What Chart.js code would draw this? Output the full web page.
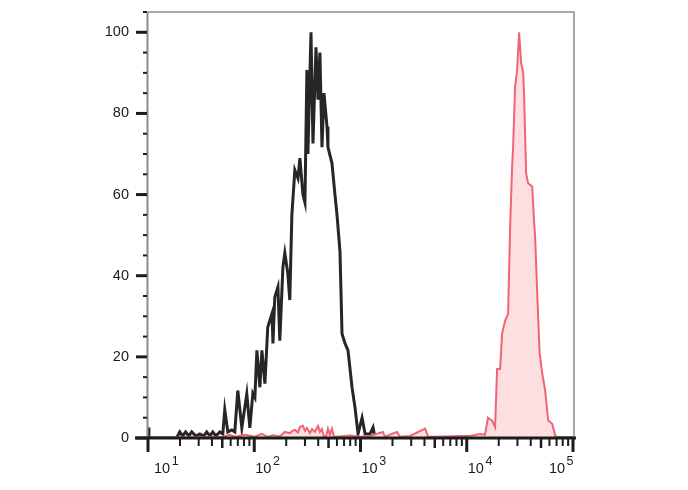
<!DOCTYPE html>
<html><head><meta charset="utf-8">
<script src="https://cdn.jsdelivr.net/npm/chart.js@4"></script>
<style>html,body{margin:0;padding:0;background:#fff}#wrap{width:688px;height:490px;position:relative}</style>
</head><body><div id="wrap"><canvas id="c" width="688" height="490"></canvas></div>
<script>
// Control (unstained, black outline)
const controlX=[10,10.2,18.6,19.9,21.2,22.6,24.2,25.8,28.2,30.7,33.5,35.7,38.2,40.7,43.5,47.4,50.6,52.8,56.4,61.5,65.6,70,76.4,85.1,90.9,97,101.4,105.9,113,118,126,134,147,150,156,167,174,186,194,207,216,226,241,258,269,287,300,313,320,342,357,381,398,415,434,453,484,494,539,575,601,641,670,715,763,832,888,948,1035,1105,1231,1313,1371,100000];
const controlY=[2.6,0,0,1.5,0.5,1.5,0.5,1.5,0.5,1,0.5,1.5,0.5,1.5,0.5,1.5,1,7,1.5,2,1.5,11.7,2.5,10.9,2.5,11,10,21.6,12.5,21.6,13.4,27.3,30.7,23.3,34.7,37.2,24,42,45.6,40.6,34,55,66,64,69,60,58,90.7,70,100,72.6,96.3,83.4,95,71.7,85,76.7,71.7,67.7,60,55,46,25.7,23.3,21.6,12.5,7.5,1,5,1,1,2.6,0,0];
// Stained sample (red, filled)
const stainedX=[10,50.6,58.9,65.6,81.5,101,118,134,150,174,194,216,231,241,258,269,287,300,313,334,349,372,398,415,434,453,473,494,515,539,563,641,795,988,1231,1626,1700,2203,2355,2926,4055,4330,6265,8670,10700,13300,14830,15850,17300,18480,19300,20600,21500,23000,24500,25600,26700,27300,28500,29800,31100,32500,34000,34700,36200,37800,41300,43100,44000,46000,48500,51300,54700,58400,63700,68000,72600,100000];
const stainedY=[0,0.3,0.8,0.3,0.8,0.3,1,0.3,0.7,0.4,1.5,1.2,1.8,2,1.4,2.7,3,1.8,2.5,1.2,2.2,1.5,3,1.5,2.2,0.3,0.3,2.3,0.8,2.3,0.3,0.4,0.6,0.3,0.5,1.5,0.3,1.5,0.3,0.5,2.3,0.3,0.4,0.5,0.5,1,0.8,5,4.3,2.7,17,17,25.7,29,30.6,52,66.7,71.7,86.5,90.7,100,92.4,90,84,65.2,62.8,62,53,49.5,36,21,16,11.7,4.3,3.5,0.6,0,0];
const yMajorTicks=[0,20,40,60,80,100];
const yTickLabels=['0','20','40','60','80','100'];
const xDecades=[10,100,1000,10000,100000];
const xDecadeExponents=['1','2','3','4','5'];

const toPts=(xs,ys)=>xs.map((v,i)=>({x:v,y:ys[i]}));

const axesPlugin={id:'axesDraw',afterDatasetsDraw(chart){
  const {ctx,chartArea:a,scales:{x,y}}=chart;
  ctx.save();
  ctx.strokeStyle='#8c8c8c';
  ctx.lineWidth=1.5;
  ctx.beginPath();ctx.moveTo(a.left,a.top);ctx.lineTo(a.right+1,a.top);ctx.lineTo(a.right+1,a.bottom);ctx.stroke();
  ctx.lineWidth=2;
  ctx.beginPath();ctx.moveTo(a.left-0.5,a.top);ctx.lineTo(a.left-0.5,a.bottom);ctx.stroke();
  ctx.fillStyle='#1c1c1c';
  for(let v=0;v<=105;v+=5){
    const py=y.getPixelForValue(v);
    if(yMajorTicks.includes(v)) ctx.fillRect(a.left-12,py-1.5,11,3);
    else ctx.fillRect(a.left-5,py-1,4,2);
  }
  ctx.font='14.5px "Liberation Sans", Arial, sans-serif';
  ctx.textAlign='right';ctx.textBaseline='middle';
  yMajorTicks.forEach((v,i)=>{ctx.fillText(yTickLabels[i],a.left-19,y.getPixelForValue(v));});
  ctx.fillRect(135,a.bottom-1.5,a.right+3-135,3);
  for(let d=0;d<xDecades.length;d++){
    for(let m=1;m<=9;m++){
      const v=xDecades[d]*m;
      if(v>x.max*1.0001) break;
      const px=x.getPixelForValue(v);
      if(m===1) ctx.fillRect(px-1.5,a.bottom,3,14);
      else if(m===5) ctx.fillRect(px-1.25,a.bottom,2.5,10);
      else ctx.fillRect(px-1,a.bottom,2,8);
    }
  }
  const baseFont='14.5px "Liberation Sans", Arial, sans-serif';
  const supFont='12.5px "Liberation Sans", Arial, sans-serif';
  ctx.textAlign='left';ctx.textBaseline='alphabetic';
  xDecades.forEach((v,i)=>{
    const px=x.getPixelForValue(v);
    ctx.font=baseFont;const w1=ctx.measureText('10').width;
    ctx.font=supFont;const w2=ctx.measureText(xDecadeExponents[i]).width;
    let lx;
    if(i===0) lx=px+6;
    else if(i===xDecades.length-1) lx=px-(w1+w2+1);
    else lx=px+1;
    ctx.font=baseFont;ctx.fillText('10',lx,a.bottom+35);
    ctx.font=supFont;ctx.fillText(xDecadeExponents[i],lx+w1+1.5,a.bottom+27);
  });
  ctx.restore();
}};

new Chart(document.getElementById('c'),{
  type:'scatter',
  data:{datasets:[
    {label:'Stained',data:toPts(stainedX,stainedY),showLine:true,borderColor:'rgb(240,100,118)',backgroundColor:'rgb(253,222,225)',borderWidth:2,fill:'origin',pointRadius:0,tension:0},
    {label:'Control',data:toPts(controlX,controlY),showLine:true,borderColor:'#262626',backgroundColor:'rgba(0,0,0,0)',borderWidth:3,fill:false,pointRadius:0,tension:0}
  ]},
  options:{
    responsive:false,animation:false,devicePixelRatio:1,
    layout:{padding:{left:148,right:115,top:12,bottom:52}},
    plugins:{legend:{display:false},tooltip:{enabled:false}},
    scales:{
      x:{type:'logarithmic',min:10,max:100000,display:false},
      y:{type:'linear',min:0,max:105,display:false}
    }
  },
  plugins:[axesPlugin]
});
</script>
</body></html>
